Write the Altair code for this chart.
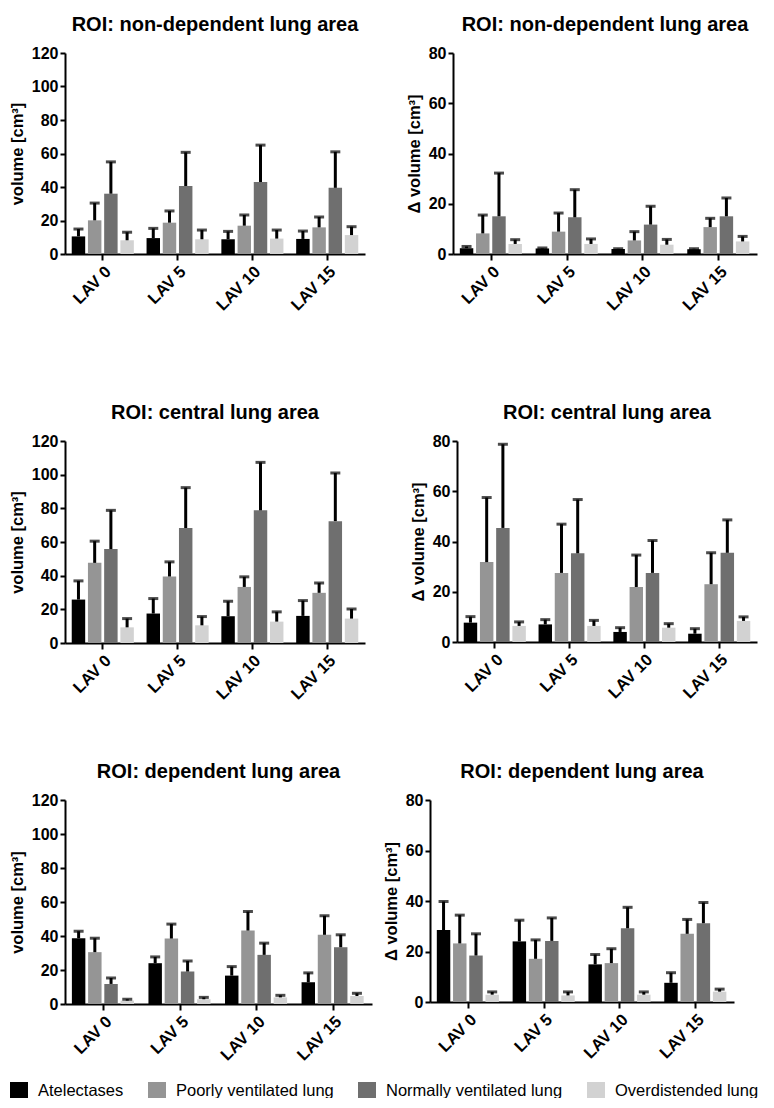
import altair as alt
import pandas as pd

groups = ["LAV 0", "LAV 5", "LAV 10", "LAV 15"]
series = ["Atelectases", "Poorly ventilated lung", "Normally ventilated lung", "Overdistended lung"]
colors = ["#000000", "#959595", "#6f6f6f", "#d2d2d2"]

# each row: one LAV group; columns follow `series`
nondep_vol_mean = [[10.5, 20.1, 36.0, 8.2], [9.5, 18.7, 40.6, 8.8], [8.8, 16.9, 43.0, 9.2], [9.0, 15.9, 39.5, 11.3]]
nondep_vol_sd = [[4.4, 10.3, 19.0, 4.8], [5.8, 7.0, 20.1, 5.5], [4.7, 6.4, 22.0, 5.1], [4.7, 6.2, 21.5, 5.0]]
nondep_dvol_mean = [[2.3, 8.2, 15.0, 4.0], [2.2, 8.9, 14.6, 4.0], [2.0, 5.4, 11.7, 3.7], [1.9, 10.7, 15.0, 5.0]]
nondep_dvol_sd = [[0.7, 7.3, 17.2, 1.7], [0.2, 7.4, 11.0, 2.0], [0.1, 3.5, 7.3, 2.1], [0.2, 3.5, 7.3, 2.0]]
central_vol_mean = [[25.8, 47.6, 55.8, 9.3], [17.5, 39.5, 68.3, 10.5], [15.9, 33.3, 78.8, 12.7], [16.1, 29.8, 72.4, 14.5]]
central_vol_sd = [[11.1, 12.9, 23.0, 5.2], [8.9, 8.7, 24.0, 5.2], [8.9, 6.0, 28.5, 5.8], [9.1, 5.9, 28.6, 5.7]]
central_dvol_mean = [[7.7, 31.8, 45.4, 6.4], [7.0, 27.5, 35.3, 6.4], [4.0, 21.9, 27.5, 5.7], [3.3, 23.0, 35.5, 8.4]]
central_dvol_sd = [[2.4, 25.7, 33.3, 1.6], [1.9, 19.4, 21.4, 2.2], [1.7, 12.7, 12.9, 1.6], [2.0, 12.5, 13.1, 1.6]]
dep_vol_mean = [[38.7, 30.5, 11.8, 2.0], [24.0, 38.5, 19.1, 2.8], [16.7, 43.2, 28.9, 3.9], [12.8, 40.7, 33.4, 4.7]]
dep_vol_sd = [[4.1, 8.2, 3.5, 0.8], [3.7, 8.5, 6.2, 1.1], [5.3, 11.2, 6.9, 1.2], [5.5, 11.2, 7.3, 1.6]]
dep_dvol_mean = [[28.5, 23.2, 18.4, 2.9], [24.0, 17.1, 24.2, 2.6], [14.9, 15.4, 29.2, 2.9], [7.6, 27.0, 31.2, 4.1]]
dep_dvol_sd = [[11.3, 11.2, 8.6, 1.1], [8.4, 7.5, 9.1, 1.4], [3.9, 5.7, 8.3, 1.1], [4.0, 5.7, 8.2, 1.0]]

FONT = "Liberation Sans"


def frame(mean, sd):
    rows = []
    for gi, g in enumerate(groups):
        for si, s in enumerate(series):
            m = mean[gi][si]
            rows.append({"group": g, "series": s, "mean": m, "upper": m + sd[gi][si]})
    return pd.DataFrame(rows)


def panel(mean, sd, title, ytitle, ymax, width, height):
    df = frame(mean, sd)
    x = alt.X("group:N", sort=groups, title=None,
              scale=alt.Scale(paddingInner=0.17, paddingOuter=0.09),
              axis=alt.Axis(labelAngle=-45, labelFontSize=16.5, tickSize=6, labelPadding=3))
    xo = alt.XOffset("series:N", sort=series, scale=alt.Scale(paddingInner=0.17))
    yscale = alt.Scale(domain=[0, ymax], nice=False)
    yaxis = alt.Axis(values=list(range(0, ymax + 1, 20)), labelOverlap=False)
    base = alt.Chart(df)
    bars = base.mark_bar().encode(
        x=x, xOffset=xo,
        y=alt.Y("mean:Q", stack=None, scale=yscale, title=ytitle, axis=yaxis),
        color=alt.Color("series:N", sort=series, title=None,
                        scale=alt.Scale(domain=series, range=colors)),
    )
    rules = base.mark_rule(color="black", strokeWidth=3).encode(
        x=x, xOffset=xo, y=alt.Y("mean:Q", scale=yscale, title=ytitle, axis=yaxis), y2="upper:Q")
    caps = base.mark_tick(color="black", size=10, thickness=3).encode(
        x=x, xOffset=xo, y=alt.Y("upper:Q", scale=yscale, title=ytitle, axis=yaxis))
    return alt.layer(bars, rules, caps).properties(
        width=width, height=height,
        title=alt.TitleParams(title, fontSize=20, font=FONT, fontWeight="bold", offset=10, color="black"))


vol_t = "volume [cm³]"
dvol_t = "Δ volume [cm³]"

p1 = panel(nondep_vol_mean, nondep_vol_sd, "ROI: non-dependent lung area", vol_t, 120, 300, 201)
p2 = panel(nondep_dvol_mean, nondep_dvol_sd, "ROI: non-dependent lung area", dvol_t, 80, 304, 201)
p3 = panel(central_vol_mean, central_vol_sd, "ROI: central lung area", vol_t, 120, 300, 202)
p4 = panel(central_dvol_mean, central_dvol_sd, "ROI: central lung area", dvol_t, 80, 300, 201)
p5 = panel(dep_vol_mean, dep_vol_sd, "ROI: dependent lung area", vol_t, 120, 307, 204)
p6 = panel(dep_dvol_mean, dep_dvol_sd, "ROI: dependent lung area", dvol_t, 80, 304, 202)

row1 = alt.hconcat(p1, p2, spacing=41)
row2 = alt.hconcat(p3, p4, spacing=45)
row3 = alt.hconcat(p5, p6, spacing=11)

chart = alt.vconcat(row1, alt.vconcat(row2, row3, spacing=59), spacing=89).properties(
    padding={"left": 1, "top": 7, "right": 3, "bottom": -2},
).configure_view(strokeWidth=0).configure_axis(
    grid=False, domainColor="black", domainWidth=2, tickColor="black", tickWidth=2, tickSize=5,
    labelFont=FONT, labelFontWeight="bold", labelFontSize=16, labelColor="black",
    titleFont=FONT, titleFontWeight="bold", titleFontSize=16.5, titleColor="black", titlePadding=6,
).configure_legend(
    orient="none", legendX=-55, legendY=1029, direction="horizontal",
    symbolType="square", symbolSize=324, symbolStrokeWidth=0, symbolOpacity=1,
    labelFont=FONT, labelFontSize=16.5,
    labelColor="black", labelLimit=400, columnPadding=24, labelOffset=10,
)

chart.save("out.html", embed_options={"renderer": "svg", "actions": False})
